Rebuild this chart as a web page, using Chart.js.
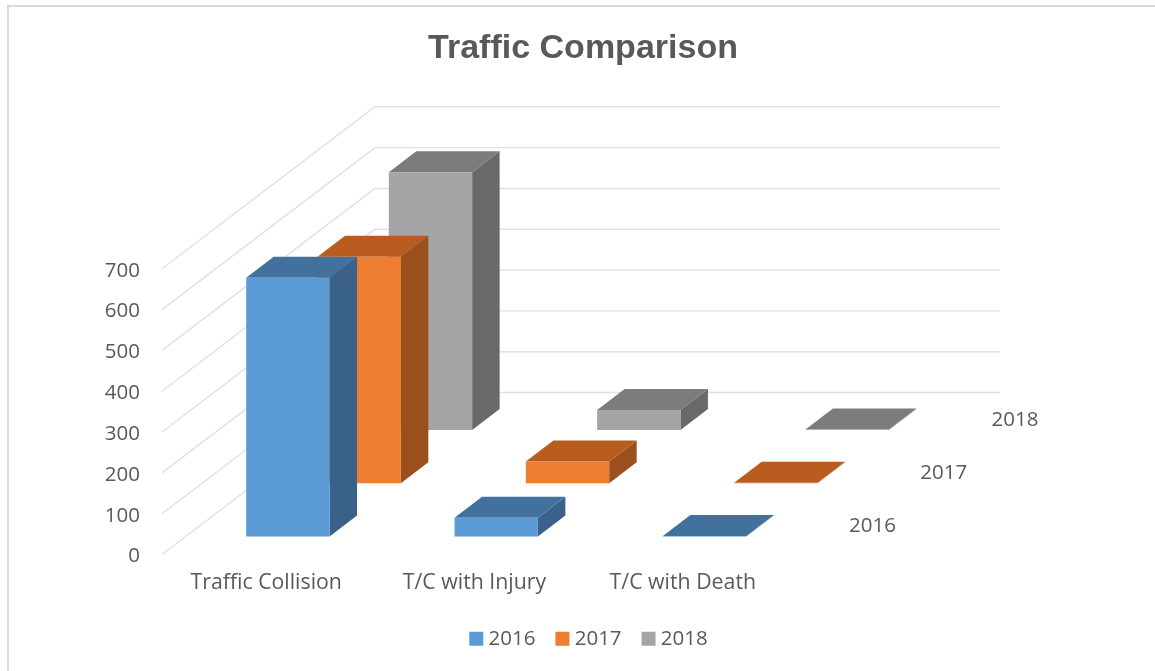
<!DOCTYPE html>
<html>
<head>
<meta charset="utf-8">
<style>
html,body{margin:0;padding:0;background:#fff;}
#wrap{position:relative;width:1155px;height:671px;overflow:hidden;}
canvas{position:absolute;left:0;top:0;}
#frame{position:absolute;left:7px;top:5px;width:1300px;height:800px;border:2px solid #d9d9d9;box-sizing:border-box;pointer-events:none;}
</style>
<script src="https://cdn.jsdelivr.net/npm/chart.js@4/dist/chart.umd.min.js"></script>
</head>
<body>
<div id="wrap"><canvas id="c" width="1155" height="671"></canvas><div id="frame"></div></div>
<script>
const categories = ['Traffic Collision', 'T/C with Injury', 'T/C with Death'];
const series2016 = [634, 46, 1];
const series2017 = [555, 53, 1];
const series2018 = [631, 49, 1];
const frontColors = ['#5b9bd5', '#ed7d31', '#a5a5a5'];
const topColors = ['#41719c', '#b85d1f', '#7c7c7c'];
const sideColors = ['#3a6189', '#9a4f1c', '#696969'];
const seriesNames = ['2016', '2017', '2018'];

const TEXT = '#595959';
const FONT = '"Open Sans", Lato, sans-serif';
const TEXT_SIZE = 20.5;
const WALL = {dx: 213, dy: -162, right: 1000};
const SERIES_STEP = {dx: 71.3, dy: -53.3};
const FIRST_OFFSET = {dx: 21.7, dy: -18};
const DEPTH = {dx: 27.5, dy: -21};

function offsetFor(i) {
  return {x: FIRST_OFFSET.dx + SERIES_STEP.dx * i, y: FIRST_OFFSET.dy + SERIES_STEP.dy * i};
}

const walls3d = {
  id: 'walls3d',
  afterLayout(chart) {
    chart.legend.left += 8;
    chart.legend.right += 8;
  },
  beforeDatasetsDraw(chart) {
    const {ctx, chartArea, scales} = chart;
    ctx.save();
    ctx.strokeStyle = '#e1e1e1';
    ctx.lineWidth = 1.4;
    scales.y.ticks.forEach(t => {
      const y = scales.y.getPixelForValue(t.value);
      ctx.beginPath();
      ctx.moveTo(chartArea.left, y);
      ctx.lineTo(chartArea.left + WALL.dx, y + WALL.dy);
      ctx.lineTo(WALL.right, y + WALL.dy);
      ctx.stroke();
    });
    ctx.fillStyle = TEXT;
    ctx.font = TEXT_SIZE + 'px ' + FONT;
    ctx.textBaseline = 'middle';
    ctx.textAlign = 'left';
    seriesNames.forEach((name, i) => {
      const o = offsetFor(i);
      ctx.fillText(name, chartArea.right + 40.3 + o.x, chartArea.bottom - 10 + o.y);
    });
    ctx.restore();
  },
  beforeDatasetDraw(chart, args) {
    const {ctx} = chart;
    const i = args.index;
    const o = offsetFor(i);
    ctx.save();
    ctx.translate(o.x, o.y);
    args.meta.data.forEach(el => {
      const p = el.getProps(['x', 'y', 'base', 'width'], true);
      const l = p.x - p.width / 2, r = p.x + p.width / 2;
      ctx.fillStyle = sideColors[i];
      ctx.beginPath();
      ctx.moveTo(r, p.y);
      ctx.lineTo(r + DEPTH.dx, p.y + DEPTH.dy);
      ctx.lineTo(r + DEPTH.dx, p.base + DEPTH.dy);
      ctx.lineTo(r, p.base);
      ctx.closePath();
      ctx.fill();
      ctx.fillStyle = topColors[i];
      ctx.beginPath();
      ctx.moveTo(l, p.y);
      ctx.lineTo(l + DEPTH.dx, p.y + DEPTH.dy);
      ctx.lineTo(r + DEPTH.dx, p.y + DEPTH.dy);
      ctx.lineTo(r, p.y);
      ctx.closePath();
      ctx.fill();
    });
  },
  afterDatasetDraw(chart) {
    chart.ctx.restore();
  }
};

new Chart(document.getElementById('c'), {
  type: 'bar',
  plugins: [walls3d],
  data: {
    labels: categories,
    datasets: [
      {label: seriesNames[0], data: series2016, backgroundColor: frontColors[0], clip: false},
      {label: seriesNames[1], data: series2017, backgroundColor: frontColors[1], clip: false},
      {label: seriesNames[2], data: series2018, backgroundColor: frontColors[2], clip: false}
    ]
  },
  options: {
    responsive: false,
    animation: false,
    grouped: false,
    barPercentage: 0.4,
    categoryPercentage: 1,
    layout: {padding: {left: 11, right: 0, top: 0, bottom: 12}},
    scales: {
      x: {
        grid: {display: false, drawTicks: false},
        border: {display: false},
        ticks: {color: TEXT, font: {family: FONT, size: 21.3}, padding: 16, maxRotation: 0, autoSkip: false},
        afterFit(s) { s.height = 49; }
      },
      y: {
        min: 0, max: 700,
        grid: {display: false, drawTicks: false},
        border: {display: false},
        ticks: {color: TEXT, font: {family: FONT, size: TEXT_SIZE}, padding: 22, stepSize: 100, labelOffset: 2},
        afterFit(s) { s.width = 151; }
      },
      depth: {
        position: 'right',
        grid: {display: false, drawTicks: false},
        border: {display: false},
        ticks: {display: false},
        afterFit(s) { s.width = 368; }
      }
    },
    plugins: {
      tooltip: {enabled: false},
      title: {
        display: true,
        text: 'Traffic Comparison',
        color: TEXT,
        font: {family: '"Liberation Sans", sans-serif', size: 34, weight: 'bold', lineHeight: 1.2},
        padding: {top: 28, bottom: 200}
      },
      legend: {
        position: 'bottom',
        labels: {
          color: TEXT,
          font: {family: FONT, size: TEXT_SIZE},
          boxWidth: 4,
          boxHeight: 4,
          padding: 25,
          generateLabels(chart) {
            return Chart.defaults.plugins.legend.labels.generateLabels(chart).map((it, i) => {
              it.strokeStyle = frontColors[i];
              it.lineWidth = 10;
              return it;
            });
          }
        }
      }
    }
  }
});
</script>
</body>
</html>
